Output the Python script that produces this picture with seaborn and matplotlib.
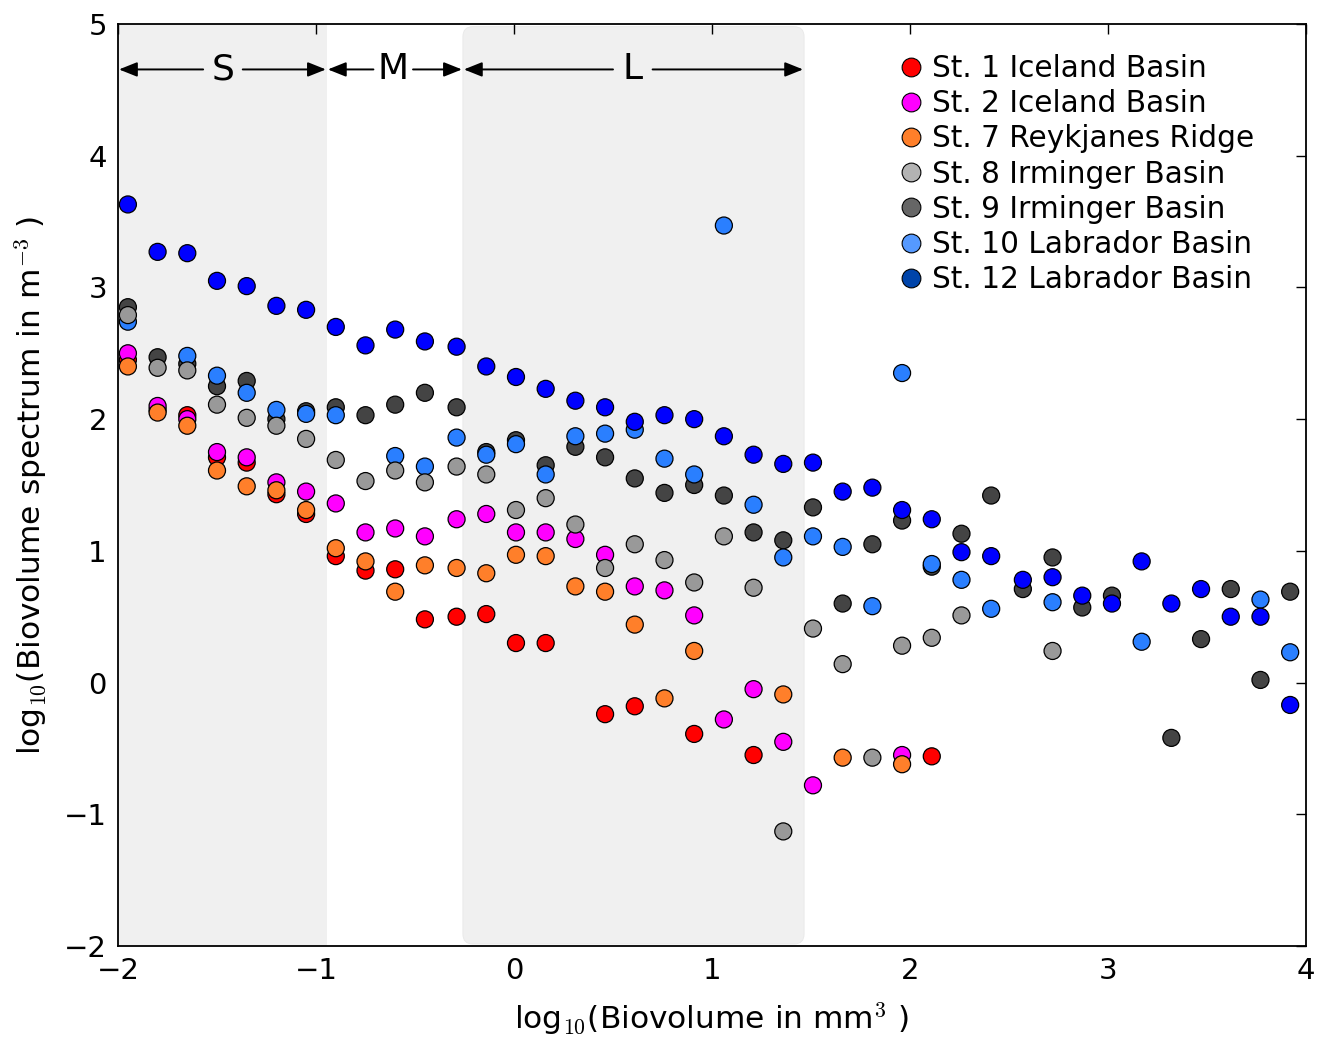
import numpy as np
import pandas as pd
import matplotlib
matplotlib.use("Agg")
import matplotlib.pyplot as plt
from matplotlib.patches import FancyBboxPatch, Rectangle
from matplotlib.lines import Line2D
import seaborn as sns

nan = np.nan

# bin centres, log10(biovolume in mm^3)
log_biovolume = [-1.95, -1.80, -1.65, -1.50, -1.35, -1.20, -1.05, -0.90, -0.75, -0.60,
                 -0.45, -0.29, -0.14, 0.01, 0.16, 0.31, 0.46, 0.61, 0.76, 0.91,
                 1.06, 1.21, 1.36, 1.51, 1.66, 1.81, 1.96, 2.11, 2.26, 2.41,
                 2.57, 2.72, 2.87, 3.02, 3.17, 3.32, 3.47, 3.62, 3.77, 3.92]

st1_iceland = [2.45, 2.07, 2.03, 1.71, 1.67, 1.43, 1.28, 0.96, 0.85, 0.86,
               0.48, 0.50, 0.52, 0.30, 0.30, nan, -0.24, -0.18, nan, -0.39,
               nan, -0.55, nan, nan, nan, nan, nan, -0.56, nan, nan,
               nan, nan, nan, nan, nan, nan, nan, nan, nan, nan]
st2_iceland = [2.50, 2.10, 2.00, 1.75, 1.71, 1.52, 1.45, 1.36, 1.14, 1.17,
               1.11, 1.24, 1.28, 1.14, 1.14, 1.09, 0.97, 0.73, 0.70, 0.51,
               -0.28, -0.05, -0.45, -0.78, nan, nan, -0.55, nan, nan, nan,
               nan, nan, nan, nan, nan, nan, nan, nan, nan, nan]
st7_reykjanes = [2.40, 2.05, 1.95, 1.61, 1.49, 1.46, 1.31, 1.02, 0.92, 0.69,
                 0.89, 0.87, 0.83, 0.97, 0.96, 0.73, 0.69, 0.44, -0.12, 0.24,
                 nan, nan, -0.09, nan, -0.57, nan, -0.62, nan, nan, nan,
                 nan, nan, nan, nan, nan, nan, nan, nan, nan, nan]
st8_irminger = [2.79, 2.39, 2.37, 2.11, 2.01, 1.95, 1.85, 1.69, 1.53, 1.61,
                1.52, 1.64, 1.58, 1.31, 1.40, 1.20, 0.87, 1.05, 0.93, 0.76,
                1.11, 0.72, -1.13, 0.41, 0.14, -0.57, 0.28, 0.34, 0.51, nan,
                nan, 0.24, nan, nan, nan, nan, nan, nan, nan, nan]
st9_irminger = [2.85, 2.47, 2.42, 2.25, 2.29, 2.00, 2.06, 2.09, 2.03, 2.11,
                2.20, 2.09, 1.75, 1.84, 1.65, 1.79, 1.71, 1.55, 1.44, 1.50,
                1.42, 1.14, 1.08, 1.33, 0.60, 1.05, 1.23, 0.88, 1.13, 1.42,
                0.71, 0.95, 0.57, 0.66, nan, -0.42, 0.33, 0.71, 0.02, 0.69]
st10_labrador = [2.74, nan, 2.48, 2.33, 2.20, 2.07, 2.04, 2.03, nan, 1.72,
                 1.64, 1.86, 1.73, 1.81, 1.58, 1.87, 1.89, 1.92, 1.70, 1.58,
                 3.47, 1.35, 0.95, 1.11, 1.03, 0.58, 2.35, 0.90, 0.78, 0.56,
                 nan, 0.61, nan, nan, 0.31, nan, nan, nan, 0.63, 0.23]
st12_labrador = [3.63, 3.27, 3.26, 3.05, 3.01, 2.86, 2.83, 2.70, 2.56, 2.68,
                 2.59, 2.55, 2.40, 2.32, 2.23, 2.14, 2.09, 1.98, 2.03, 2.00,
                 1.87, 1.73, 1.66, 1.67, 1.45, 1.48, 1.31, 1.24, 0.99, 0.96,
                 0.78, 0.80, 0.66, 0.60, 0.92, 0.60, 0.71, 0.50, 0.50, -0.17]

station_labels = ["St. 1 Iceland Basin", "St. 2 Iceland Basin", "St. 7 Reykjanes Ridge",
                  "St. 8 Irminger Basin", "St. 9 Irminger Basin", "St. 10 Labrador Basin",
                  "St. 12 Labrador Basin"]
station_values = [st1_iceland, st2_iceland, st7_reykjanes, st8_irminger,
                  st9_irminger, st10_labrador, st12_labrador]
point_colors = ["#ff0000", "#ff00ff", "#ff7f2a", "#999999", "#444444", "#2a7fff", "#0000ff"]
legend_colors = ["#ff0000", "#ff00ff", "#ff7f2a", "#b3b3b3", "#666666", "#5599ff", "#0044aa"]
draw_order = [0, 1, 2, 4, 5, 3, 6]

class_names = ["S", "M", "L"]
class_edges = [-2.0, -0.945, -0.258, 1.465]

rows = []
for k in draw_order:
    for xv, yv in zip(log_biovolume, station_values[k]):
        if not np.isnan(yv):
            rows.append((station_labels[k], xv, yv))
df = pd.DataFrame(rows, columns=["station", "x", "y"])

sns.set_style("white")
plt.rcParams["font.family"] = ["DejaVu Sans"]
plt.rcParams["mathtext.fontset"] = "cm"
plt.rcParams["mathtext.rm"] = "serif"
for key in ["text.color", "axes.labelcolor", "xtick.color", "ytick.color", "axes.edgecolor"]:
    plt.rcParams[key] = "black"

fig = plt.figure(figsize=(13.34, 10.45), dpi=100)
ax = fig.add_axes([118 / 1334, 1 - 946 / 1045, (1306 - 118) / 1334, (946 - 24) / 1045])

ax.set_xlim(-2, 4)
ax.set_ylim(-2, 5)

shade = "#f0f0f0"
ax.add_patch(Rectangle((class_edges[0], -2), class_edges[1] - class_edges[0], 7,
                       facecolor=shade, edgecolor="none", zorder=0))
ax.add_patch(FancyBboxPatch((class_edges[2], -1.985), class_edges[3] - class_edges[2], 6.965,
                            boxstyle="round,pad=0,rounding_size=0.05",
                            mutation_aspect=1.5, facecolor=shade, edgecolor="#e8e8e8",
                            lw=0.6, zorder=0))

palette = {station_labels[k]: point_colors[k] for k in range(7)}
sns.scatterplot(data=df, x="x", y="y", hue="station", palette=palette, s=150,
                edgecolor="black", linewidth=0.9, legend=False, ax=ax, zorder=3,
                alpha=1)

# class arrows
arrow_y = 4.655
arrow_kw = dict(arrowstyle="-|>,head_length=0.55,head_width=0.22", color="black",
                lw=1.4, shrinkA=0, shrinkB=0, mutation_scale=20)
label_pos = [-1.47, -0.61, 0.60]
label_gap = [0.10, 0.10, 0.10]
for i, name in enumerate(class_names):
    lo, hi = class_edges[i], class_edges[i + 1]
    c = label_pos[i]
    g = label_gap[i]
    ax.annotate("", xy=(lo + 0.005, arrow_y), xytext=(c - g, arrow_y),
                arrowprops=arrow_kw, zorder=4)
    ax.annotate("", xy=(hi - 0.005, arrow_y), xytext=(c + g, arrow_y),
                arrowprops=arrow_kw, zorder=4)
    ax.text(c, arrow_y, name, ha="center", va="center", fontsize=26, zorder=4)

ax.set_xlabel(r"log$_{10}$(Biovolume in mm$^3$ )", fontsize=22.5, labelpad=11)
ax.set_ylabel(r"log$_{10}$(Biovolume spectrum in m$^{-3}$ )", fontsize=22.5, labelpad=10)
ax.set_xticks([-2, -1, 0, 1, 2, 3, 4])
ax.set_yticks([-2, -1, 0, 1, 2, 3, 4, 5])
ax.tick_params(direction="in", length=7, width=1, top=True, right=True,
               labelsize=21, pad=8, colors="black")
for sp in ax.spines.values():
    sp.set_linewidth(1.3)
    sp.set_color("black")
    sp.set_zorder(5)

handles = [Line2D([], [], marker="o", linestyle="none", markersize=13.5,
                  markerfacecolor=legend_colors[k], markeredgecolor="black",
                  markeredgewidth=0.8, label=station_labels[k]) for k in range(7)]
ax.legend(handles=handles, loc="upper left", bbox_to_anchor=((899 - 118) / 1188, (946 - 54) / 922),
          frameon=False, fontsize=21.3, handlelength=0.8, handletextpad=0.32,
          labelspacing=0.21, borderpad=0, borderaxespad=0)

fig.savefig("out.png", dpi=100)
